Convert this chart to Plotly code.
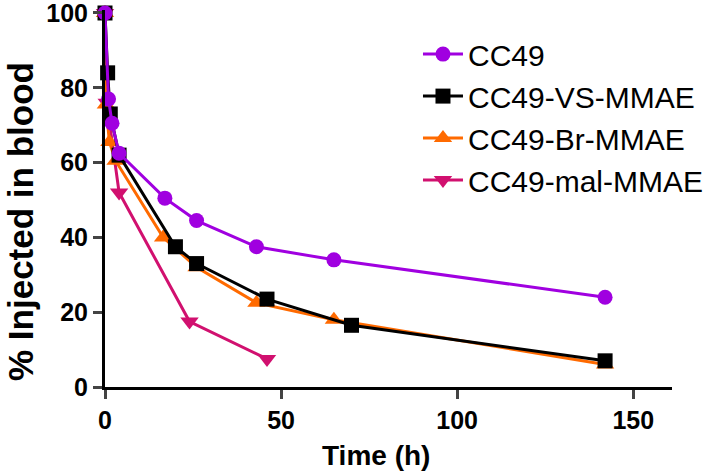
import plotly.graph_objects as go

# Data
series_names = ["CC49", "CC49-VS-MMAE", "CC49-Br-MMAE", "CC49-mal-MMAE"]
cc49_t = [0, 1, 2, 4, 17, 26, 43, 65, 142]
cc49_y = [100, 77, 70.5, 62.5, 50.5, 44.5, 37.5, 34, 24]
vs_t = [0, 0.75, 1.5, 4, 20, 26, 46, 70, 142]
vs_y = [100, 84, 73, 62, 37.5, 33, 23.5, 16.5, 7]
br_t = [0, 0.25, 1.25, 3, 16.5, 26, 43, 65, 142]
br_y = [100, 75.5, 65.5, 60.5, 40, 32, 22.5, 18, 6]
mal_t = [0, 0.5, 4, 24, 46]
mal_y = [100, 76, 52, 17.5, 7.5]
x_ticks = [0, 50, 100, 150]
y_ticks = [0, 20, 40, 60, 80, 100]

colors = ["#A000E0", "#000000", "#FF6A00", "#D1106F"]
symbols = ["circle", "square", "triangle-up", "triangle-down"]
sizes = [15, 15, 16, 16]
data = [(cc49_t, cc49_y), (vs_t, vs_y), (br_t, br_y), (mal_t, mal_y)]

fig = go.Figure()
for i in [3, 2, 1, 0]:
    t, y = data[i]
    fig.add_trace(go.Scatter(
        x=t, y=y, name=series_names[i], mode="lines+markers",
        line=dict(color=colors[i], width=3),
        marker=dict(symbol=symbols[i], size=sizes[i], color=colors[i]),
        cliponaxis=False,
    ))

plot_h = 475 - 10 - 88
axis_font = dict(family="Liberation Sans", size=25, color="black", weight="bold")
fig.update_layout(
    width=709, height=475,
    margin=dict(l=105, r=37, t=10, b=88, autoexpand=False),
    plot_bgcolor="white", paper_bgcolor="white",
    showlegend=True,
    legend=dict(
        x=0.552, y=0.952, xanchor="left", yanchor="top",
        traceorder="reversed",
        font=dict(family="Liberation Sans", size=30, color="black"),
        bgcolor="rgba(0,0,0,0)", itemwidth=40, tracegroupgap=0,
    ),
    xaxis=dict(
        range=[0, 161], tickvals=x_ticks, ticks="outside", ticklen=9, tickwidth=3,
        showline=True, linewidth=3, linecolor="black", showgrid=False, zeroline=False,
        tickfont=axis_font, automargin=False, ticklabeloverflow="allow",
    ),
    yaxis=dict(
        range=[0, 100.8], tickvals=y_ticks, ticks="outside", ticklen=9, tickwidth=3,
        showline=True, linewidth=3, linecolor="black", showgrid=False, zeroline=False,
        tickfont=axis_font, automargin=False, ticklabeloverflow="allow",
    ),
    annotations=[
        dict(text="<b>Time (h)</b>", xref="paper", yref="paper",
             x=(376 - 105) / 567, y=-(455 - 387) / plot_h, xanchor="center", yanchor="middle",
             showarrow=False, font=dict(family="Liberation Sans", size=28, color="black")),
        dict(text="<b>% Injected in blood</b>", xref="paper", yref="paper",
             x=-(105 - 20) / 567, y=(387 - 222) / plot_h, xanchor="center", yanchor="middle",
             textangle=-90, showarrow=False,
             font=dict(family="Liberation Sans", size=35, color="black")),
    ],
)

fig.write_html("out.html", config={"displayModeBar": False},
               post_script="document.body.style.margin='0';document.body.style.padding='0';")
